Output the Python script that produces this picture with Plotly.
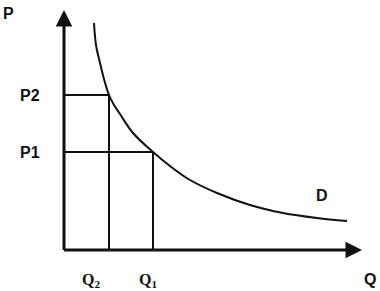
import plotly.graph_objects as go

# Demand curve points (Q, P)
curve_q = [30, 32, 36, 40, 45, 50, 56, 69, 89, 106, 126, 153, 186, 219, 253, 283]
curve_p = [227, 205, 187, 171, 155, 145, 136, 117, 98, 84, 70, 57, 45, 37, 32, 29]

# Marked price/quantity pairs
price_labels = ["P2", "P1"]
price_values = [155, 98]
qty_labels = ["Q<sub>2</sub>", "Q<sub>1</sub>"]
qty_values = [45, 89]

# Axis extents (arrow tips)
q_max = 298
p_max = 240

ink = "#111111"
fig = go.Figure()

# guide lines
for q, p in zip(qty_values, price_values):
    fig.add_trace(go.Scatter(x=[0, q, q], y=[p, p, 0], mode="lines",
                             line=dict(color=ink, width=2), hoverinfo="skip"))

# demand curve
fig.add_trace(go.Scatter(x=curve_q, y=curve_p, mode="lines", line_shape="spline",
                         line=dict(color=ink, width=2, smoothing=1), hoverinfo="skip"))

annotations = []
# axes with arrows
annotations.append(dict(x=0, y=p_max, ax=0, ay=-1.5, xref="x", yref="y", axref="x", ayref="y",
                        text="", showarrow=True, arrowhead=2, arrowsize=1.1, arrowwidth=3,
                        arrowcolor=ink, standoff=0, startstandoff=0))
annotations.append(dict(x=q_max, y=0, ax=-1.5, ay=0, xref="x", yref="y", axref="x", ayref="y",
                        text="", showarrow=True, arrowhead=2, arrowsize=1.1, arrowwidth=3,
                        arrowcolor=ink, standoff=0, startstandoff=0))

lab_font = dict(family="Liberation Sans, Arial", size=16, color=ink)
serif_font = dict(family="Liberation Serif, Times New Roman", size=16, color=ink)

for lab, p in zip(price_labels, price_values):
    annotations.append(dict(x=-34, y=p, xref="x", yref="y", text=f"<b>{lab}</b>",
                            showarrow=False, font=lab_font))
for lab, q, dx in zip(qty_labels, qty_values, [-18, -5]):
    annotations.append(dict(x=q + dx, y=-30, xref="x", yref="y", text=f"<b>{lab}</b>",
                            showarrow=False, font=serif_font))

annotations.append(dict(x=-56, y=237, xref="x", yref="y", text="<b>P</b>",
                        showarrow=False, font=lab_font))
annotations.append(dict(x=306, y=-29, xref="x", yref="y", text="<b>Q</b>",
                        showarrow=False, font=lab_font))
annotations.append(dict(x=258, y=55, xref="x", yref="y", text="<b>D</b>",
                        showarrow=False, font=lab_font))

fig.update_layout(
    width=380, height=291,
    margin=dict(l=0, r=0, t=0, b=0),
    paper_bgcolor="white", plot_bgcolor="white",
    showlegend=False,
    annotations=annotations,
    xaxis=dict(range=[-64, 316], visible=False, fixedrange=True),
    yaxis=dict(range=[-41, 250], visible=False, fixedrange=True),
)

fig.write_html("out.html", config={"displayModeBar": False, "staticPlot": True},
               post_script="document.body.style.margin='0';document.body.style.overflow='hidden';")
